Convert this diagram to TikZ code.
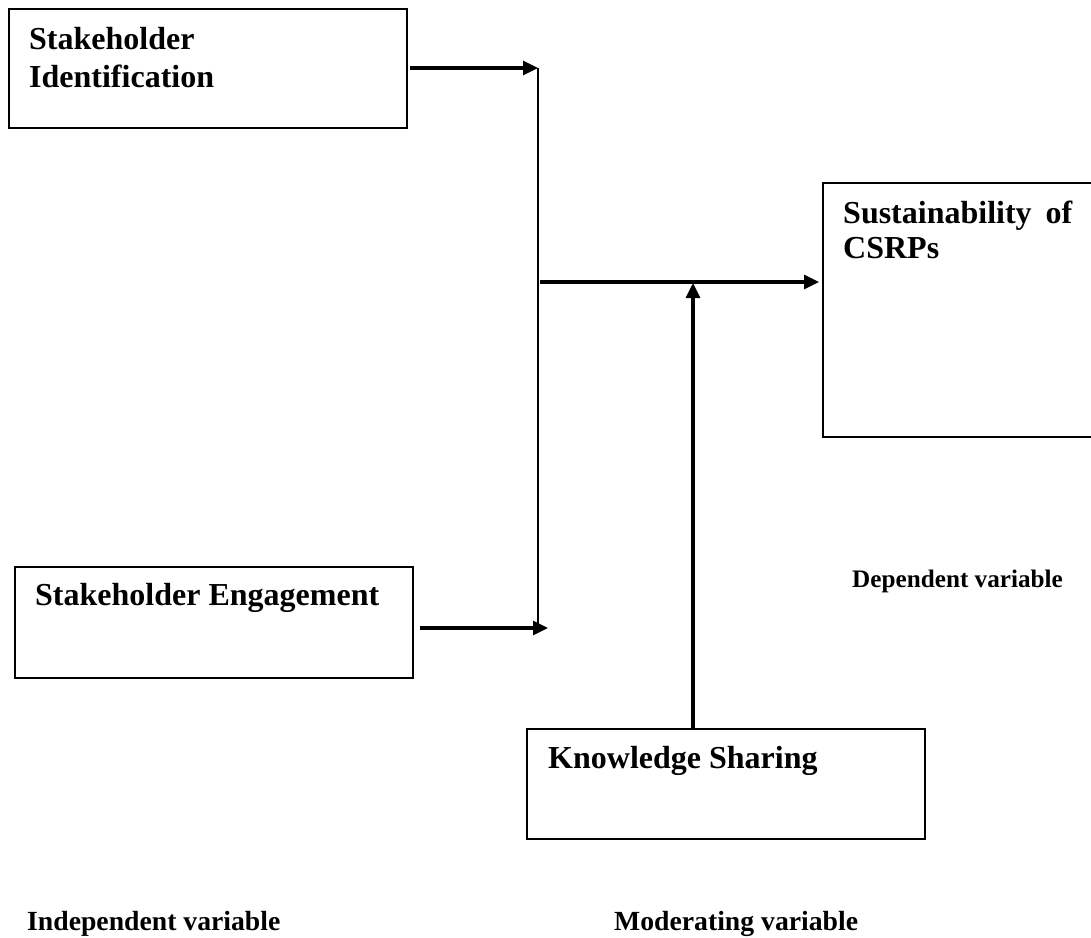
\documentclass[tikz,border=0pt]{standalone}
\usepackage{fontspec}
\setmainfont{Liberation Serif}
\usetikzlibrary{arrows.meta}
\begin{document}
\begin{tikzpicture}[x=1pt,y=-1pt,
  boxstyle/.style={draw, line width=2.2pt, rectangle, inner sep=0pt},
  boxtext/.style={font=\fontsize{32}{38}\selectfont\bfseries, inner sep=0pt, anchor=base west, align=left},
  labeltext/.style={font=\fontsize{27.7}{33}\selectfont\bfseries, inner sep=0pt, anchor=base west},
  vconn/.style={line width=2.2pt},
  arr/.style={line width=3.2pt, -{Triangle[length=15pt,width=14pt]}}
]
\useasboundingbox (0,0) rectangle (1091,937);
\clip (0,0) rectangle (1091,937);
\fill[white] (0,0) rectangle (1091,937);

% boxes
\node[boxstyle, minimum width=398pt, minimum height=119pt, anchor=north west] (sid) at (8,8) {};
\node[boxstyle, minimum width=398pt, minimum height=111pt, anchor=north west] (seng) at (14,566) {};
\node[boxstyle, minimum width=290pt, minimum height=254pt, anchor=north west] (sus) at (822,182) {};
\node[boxstyle, minimum width=398pt, minimum height=110pt, anchor=north west] (ks) at (526,728) {};

% texts (base anchor = baseline of last line)
\node[boxtext] (sidt) at (29,87) {Stakeholder\\Identification};
\node[boxtext] (sengt) at (35,605) {Stakeholder Engagement};
\node[boxtext, font=\fontsize{32}{35}\selectfont\bfseries] (sust) at (843,258) {\makebox[229pt][s]{Sustainability of}\\CSRPs};
\node[boxtext] (kst) at (548,768) {Knowledge Sharing};

\node[font=\fontsize{25.2}{30}\selectfont\bfseries, inner sep=0pt, anchor=base west] (dep) at (852,587) {Dependent variable};
\node[labeltext] (indep) at (27,930) {Independent variable};
\node[labeltext] (mod) at (614,930) {Moderating variable};

% connectors
\coordinate (j1) at (538,68);
\coordinate (j2) at (538,628);
\coordinate (t2) at (548,628);
\coordinate (m1) at (540,282);
\coordinate (m2) at (693,283);

\draw[arr] ([xshift=2pt]sid.east |- j1) -- (j1);
\draw[vconn] (j1) -- (j2);
\draw[arr] ([xshift=6pt]seng.east |- t2) -- (t2);
\draw[arr, shorten >=3pt] (m1) -- (sus.west |- m1);
\draw[arr] (m2 |- ks.north) -- (m2);
\end{tikzpicture}
\end{document}
